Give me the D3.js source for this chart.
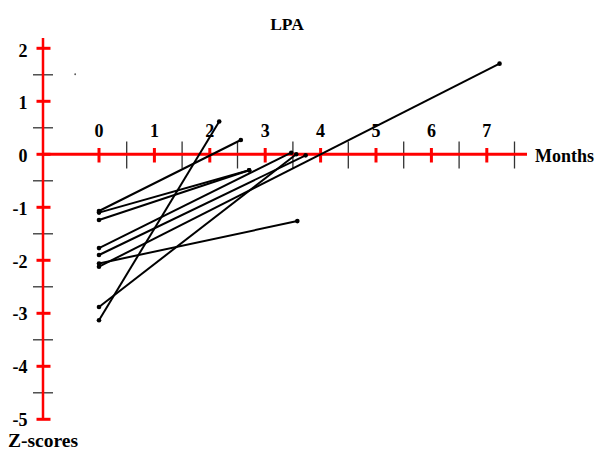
<!DOCTYPE html>
<html><head><meta charset="utf-8">
<script src="https://cdn.jsdelivr.net/npm/d3@7"></script>
<style>body{margin:0;background:#fff}svg{display:block}</style>
</head><body>
<svg id="c" width="601" height="450"></svg>
<script>
// Data: each trajectory from month 0 to a follow-up month
const startMonth = [0, 0, 0, 0, 0, 0, 0, 0, 0];
const startZ     = [-3.13, -1.07, -1.10, -1.24, -1.77, -1.90, -2.06, -2.12, -2.88];
const endMonth   = [2.17, 2.56, 2.71, 2.71, 3.47, 3.73, 3.58, 7.23, 3.56];
const endZ       = [0.62, 0.27, -0.30, -0.30, 0.03, -0.02, -1.26, 1.71, 0.00];
const strayMonth = [-0.43];
const strayZ     = [1.51];
const xTickLabels = ["0","1","2","3","4","5","6","7"];
const yTickLabels = ["2","1","0","-1","-2","-3","-4","-5"];

const svg = d3.select("#c");
const x = d3.scaleLinear().domain([0, 7]).range([99, 486.8]);
const y = d3.scaleLinear().domain([2, -5]).range([48.3, 419.3]);
const yLab = d3.scaleLinear().domain([2, -5]).range([56.5, 426]);
const font = "'Liberation Serif','Times New Roman',serif";

// title
svg.append("text").attr("x", 287).attr("y", 30).attr("text-anchor", "middle")
  .attr("font-family", font).attr("font-weight", "bold").attr("font-size", 17.5).text("LPA");

// half ticks (black)
const xHalf = d3.range(0.5, 8, 1);
const yHalf = d3.range(1.5, -5, -1);
svg.selectAll(".xh").data(xHalf).join("line")
  .attr("x1", d => x(d)).attr("x2", d => x(d)).attr("y1", 141.5).attr("y2", 168.5)
  .attr("stroke", "#333").attr("stroke-width", 1.3);
svg.selectAll(".yh").data(yHalf).join("line")
  .attr("x1", 33).attr("x2", 53).attr("y1", d => y(d)).attr("y2", d => y(d))
  .attr("stroke", "#333").attr("stroke-width", 1.3);

// axes (red)
svg.append("line").attr("x1", 43).attr("x2", 527).attr("y1", y(0)).attr("y2", y(0))
  .attr("stroke", "#ff0000").attr("stroke-width", 3);
svg.append("line").attr("x1", 43).attr("x2", 43).attr("y1", 38).attr("y2", y(-5))
  .attr("stroke", "#ff0000").attr("stroke-width", 2.5);

const xInt = xTickLabels.map(Number);
const yInt = yTickLabels.map(Number);
svg.selectAll(".xt").data(xInt).join("line")
  .attr("x1", d => x(d)).attr("x2", d => x(d)).attr("y1", 148).attr("y2", 162.5)
  .attr("stroke", "#ff0000").attr("stroke-width", 3);
svg.selectAll(".yt").data(yInt).join("line")
  .attr("x1", 36.5).attr("x2", 50.5).attr("y1", d => y(d)).attr("y2", d => y(d))
  .attr("stroke", "#ff0000").attr("stroke-width", 3);

// tick labels
svg.selectAll(".xl").data(xTickLabels).join("text")
  .attr("x", d => x(+d)).attr("y", 137).attr("text-anchor", "middle")
  .attr("font-family", font).attr("font-weight", "bold").attr("font-size", 18).text(d => d);
svg.selectAll(".yl").data(yTickLabels).join("text")
  .attr("x", 27.5).attr("y", d => yLab(+d)).attr("text-anchor", "end")
  .attr("font-family", font).attr("font-weight", "bold").attr("font-size", 18).text(d => d);

svg.append("text").attr("x", 535).attr("y", 162).attr("font-family", font)
  .attr("font-weight", "bold").attr("font-size", 18).text("Months");
svg.append("text").attr("x", 8).attr("y", 446.5).attr("font-family", font)
  .attr("font-weight", "bold").attr("font-size", 19.5).text("Z-scores");

// trajectories
const segs = startZ.map((z, i) => ({x0: startMonth[i], y0: z, x1: endMonth[i], y1: endZ[i]}));
svg.selectAll(".seg").data(segs).join("line")
  .attr("x1", d => x(d.x0)).attr("y1", d => y(d.y0)).attr("x2", d => x(d.x1)).attr("y2", d => y(d.y1))
  .attr("stroke", "#000").attr("stroke-width", 2);
const pts = segs.flatMap(d => [[d.x0, d.y0], [d.x1, d.y1]]);
svg.selectAll(".pt").data(pts).join("circle")
  .attr("cx", d => x(d[0])).attr("cy", d => y(d[1])).attr("r", 2.3).attr("fill", "#000");
svg.selectAll(".stray").data(strayMonth).join("circle")
  .attr("cx", d => x(d)).attr("cy", (d, i) => y(strayZ[i])).attr("r", 0.9).attr("fill", "#555");
</script>
</body></html>
